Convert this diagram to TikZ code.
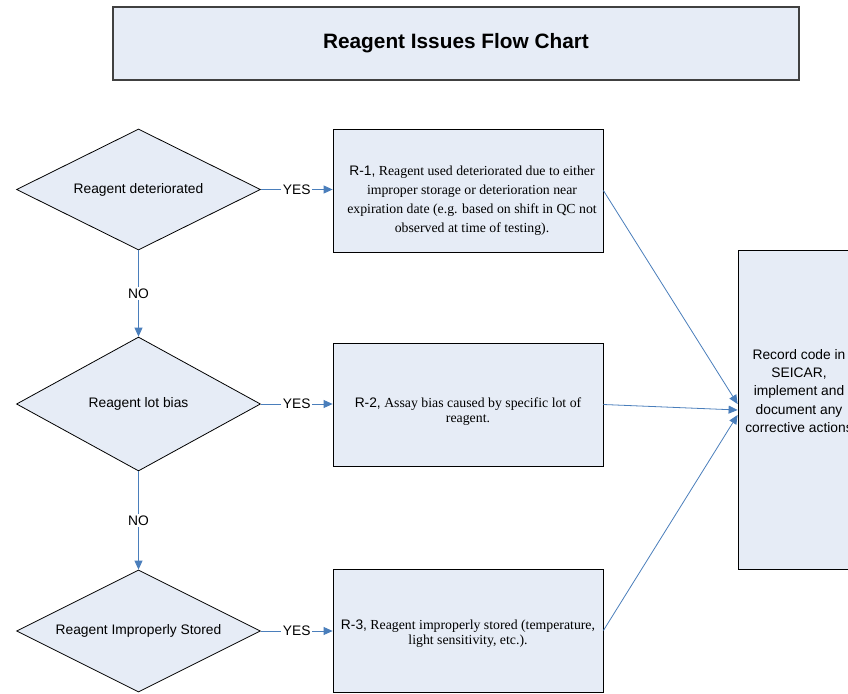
\documentclass[tikz,border=0pt]{standalone}
\usepackage{fontspec}
\setmainfont{Liberation Serif}
\setsansfont{Liberation Sans}
\usetikzlibrary{shapes.geometric,arrows.meta,calc}
\definecolor{boxfill}{RGB}{230,236,246}
\definecolor{flowblue}{RGB}{74,126,187}
\begin{document}
\begin{tikzpicture}[x=1pt,y=-1pt,
  decision/.style={diamond, draw=black, fill=boxfill, line width=0.8pt,
    shape aspect=2, inner sep=0pt, minimum width=244pt, minimum height=121pt,
    font=\sffamily\fontsize{13.8}{16}\selectfont},
  causebox/.style={rectangle, draw=black, fill=boxfill, line width=0.8pt,
    minimum width=270pt, minimum height=123pt, inner sep=0pt},
  causetext/.style={align=center, inner sep=0pt},
  flow/.style={draw=flowblue, line width=0.8pt, -{Triangle[length=9pt,width=8pt]}},
  tag/.style={fill=white, inner sep=1.5pt, font=\sffamily\fontsize{13.8}{16}\selectfont}
]
\clip (0,0) rectangle (848,693);
\useasboundingbox (0,0) rectangle (848,693);

% title banner
\node[rectangle, draw=black!75, line width=1.2pt, fill=boxfill,
      minimum width=686pt, minimum height=73pt] (title) at (456,43.5)
  {\sffamily\bfseries\fontsize{20.8}{24}\selectfont Reagent Issues Flow Chart};

% decisions
\node[decision] (d1) at (138.5,189.5) {Reagent deteriorated};
\node[decision, minimum height=134pt] (d2) at (138.5,404) {Reagent lot bias};
\node[decision, minimum height=122pt] (d3) at (138.5,631) {Reagent Improperly Stored};

% cause boxes
\node[causebox] (r1) at (468,190.5) {};
\node[causebox] (r2) at (468,404.5) {};
\node[causebox] (r3) at (468,630.5) {};

\node[causetext, font=\fontsize{13.8}{19}\selectfont] (r1t) at (472,201)
  {\textsf{R-1,} Reagent used deteriorated due to either\\
   improper storage or deterioration near\\
   expiration date (e.g. based on shift in QC not\\
   observed at time of testing).};
\node[causetext, font=\fontsize{13.8}{15}\selectfont] (r2t) at (468,412)
  {\textsf{R-2,} Assay bias caused by specific lot of\\ reagent.};
\node[causetext, font=\fontsize{13.8}{15}\selectfont] (r3t) at (468,633.5)
  {\textsf{R-3,} Reagent improperly stored (temperature,\\ light sensitivity, etc.).};

% record box
\node[rectangle, draw=black, fill=boxfill, line width=0.8pt,
      minimum width=124pt, minimum height=319pt, inner sep=0pt] (rec) at (800,409.5) {};
\node[align=center, inner sep=0pt, font=\sffamily\fontsize{13.8}{18.4}\selectfont] (rect) at (799,391)
  {Record code in\\ SEICAR,\\ implement and\\ document any\\ corrective actions};

% YES branches
\draw[flow] (d1.east) -- node[tag]{YES} (d1.east -| r1.west);
\draw[flow] (d2.east) -- node[tag]{YES} (d2.east -| r2.west);
\draw[flow] (d3.east) -- node[tag]{YES} (d3.east -| r3.west);

% NO branches
\draw[flow] (d1.south) -- node[tag]{NO} (d2.north);
\draw[flow] (d2.south) -- node[tag]{NO} (d3.north);

% into the record box
\coordinate (in1) at ($(rec.west)+(0,-5.5)$);
\coordinate (in2) at ($(rec.west)+(0,0.5)$);
\coordinate (in3) at ($(rec.west)+(0,5.5)$);
\draw[flow] (r1.east) -- (in1);
\draw[flow] (r2.east) -- (in2);
\draw[flow] (r3.east) -- (in3);
\end{tikzpicture}
\end{document}
